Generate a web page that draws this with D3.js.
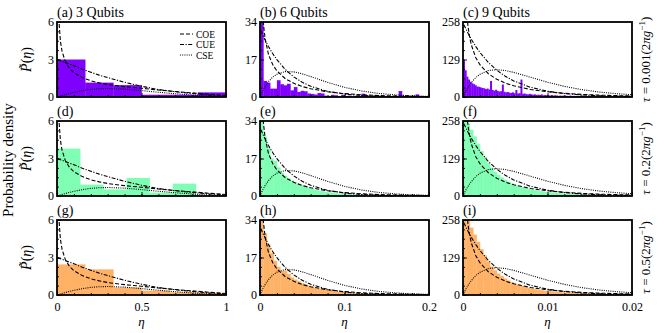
<!DOCTYPE html>
<html>
<head>
<meta charset="utf-8">
<script src="https://cdn.jsdelivr.net/npm/d3@7/dist/d3.min.js"></script>
<style>
  body { margin: 0; background: #fff; }
  svg text { fill: #000; }
</style>
</head>
<body>
<div id="chart"></div>
<script>
// --- data ---
const panelLabels = ['(a) 3 Qubits', '(b) 6 Qubits', '(c) 9 Qubits', '(d)', '(e)', '(f)', '(g)', '(h)', '(i)'];
const tauValues = ['0.001', '0.2', '0.5'];
const xMax = [1, 0.2, 0.02];
const yMax = [6, 34, 258];
const xTicks = [[0, 0.5, 1], [0, 0.1, 0.2], [0, 0.01, 0.02]];
const legendNames = ['COE', 'CUE', 'CSE'];

// theory curves, column 1 (3 qubits)
const eta1 = [0.003, 0.006, 0.01, 0.02, 0.03, 0.05, 0.075, 0.1, 0.15, 0.2, 0.25, 0.3, 0.4, 0.5, 0.6, 0.7, 0.8, 0.9, 1.0];
const coe1 = [11.6, 8.2, 6.35, 4.48, 3.65, 2.8, 2.27, 1.95, 1.55, 1.3, 1.13, 1.0, 0.83, 0.7, 0.56, 0.44, 0.33, 0.22, 0.12];
const cue1 = [2.99, 2.97, 2.95, 2.9, 2.85, 2.75, 2.62, 2.5, 2.22, 1.98, 1.75, 1.55, 1.18, 0.86, 0.6, 0.42, 0.28, 0.17, 0.1];
const cse1 = [0.012, 0.025, 0.04, 0.08, 0.12, 0.2, 0.29, 0.37, 0.51, 0.61, 0.66, 0.68, 0.63, 0.51, 0.38, 0.26, 0.16, 0.08, 0.03];

// column 2 (6 qubits)
const eta2 = [0.001, 0.002, 0.004, 0.006, 0.01, 0.015, 0.02, 0.03, 0.04, 0.05, 0.06, 0.08, 0.1, 0.12, 0.14, 0.16, 0.18, 0.2];
const coe2 = [69.8, 48.6, 33.4, 26.5, 19.35, 14.7, 11.8, 8.3, 6.2, 4.76, 3.73, 2.36, 1.54, 1.01, 0.67, 0.45, 0.3, 0.2];
const cue2 = [30.1, 29.2, 27.5, 25.9, 22.9, 19.7, 16.9, 12.43, 9.11, 6.65, 4.84, 2.54, 1.31, 0.67, 0.34, 0.17, 0.08, 0.04];
const cse2 = [0.9, 1.76, 3.31, 4.69, 6.95, 9.0, 10.35, 11.53, 11.39, 10.5, 9.27, 6.63, 4.38, 2.74, 1.64, 0.95, 0.53, 0.29];

// column 3 (9 qubits)
const eta3 = [0.0001, 0.0002, 0.0004, 0.0006, 0.0008, 0.001, 0.0015, 0.002, 0.003, 0.004, 0.005, 0.006, 0.008, 0.01, 0.012, 0.014, 0.016, 0.018, 0.02];
const coe3 = [629.7, 439, 303, 241, 204, 178, 136, 111, 80, 61, 48, 38.5, 25.8, 17.9, 12.6, 9.1, 6.6, 4.8, 3.5];
const cue3 = [248.6, 242.4, 230.4, 219, 208.1, 197.8, 174.2, 153.4, 118.9, 92.1, 71.4, 55.3, 33.2, 19.9, 11.9, 7.1, 4.2, 2.5, 1.5];
const cse3 = [6.3, 12.6, 23.4, 33.4, 42.3, 50.3, 66.5, 78.1, 90.9, 94.0, 91.1, 84.8, 67.9, 50.9, 36.6, 25.6, 17.5, 11.8, 7.8];

// histograms, coarse bins (first column)
const edgesA = [0, 1 / 6, 2 / 6, 3 / 6, 4 / 6, 5 / 6, 1];
const countsA = [3.0, 1.15, 0.95, 0.18, 0.18, 0.37];
const edgesD = [0, 0.137, 0.274, 0.411, 0.548, 0.685, 0.822, 0.959];
const countsD = [3.79, 0.91, 0.53, 1.44, 0.27, 0.99, 0.08];
const edgesG = [0, 1 / 6, 2 / 6, 3 / 6, 4 / 6, 5 / 6, 1];
const countsG = [2.45, 2.05, 0.6, 0.35, 0.22, 0.15];

// histograms, 6 qubits (bin width 0.004)
const binW6 = 0.004;
const countsB = [34, 7.3, 6.5, 3.8, 3.8, 7.6, 5.8, 5.3, 6.0, 3.0, 4.5, 2.3, 2.8, 2.6, 1.6, 1.4, 1.1, 1.8, 1.6, 0.6,
  0.5, 1.0, 0.8, 0.3, 0.9, 0.4, 0.6, 0.2, 0.5, 0.3, 1.5, 0.8, 0.3, 0.4, 0.2, 0.5, 0.2, 0.3, 0.1, 0.2,
  0.3, 2.7, 0.3, 0.9, 0.2, 0.1, 1.2, 0.3, 0.2, 0.1];
const countsE = [34, 27, 22, 17, 16, 13, 10.5, 9.2, 8.0, 7.0, 6.2, 5.4, 4.8, 4.2, 3.8, 3.3, 2.9, 2.5, 2.2, 1.9,
  1.7, 1.5, 1.3, 1.15, 1.0, 0.9, 0.78, 0.68, 0.6, 0.52, 0.46, 0.4, 0.35, 0.3, 0.27, 0.24, 0.21, 0.18, 0.16, 0.14,
  0.12, 0.11, 0.1, 0.09, 0.08, 0.07, 0.06, 0.05, 0.05, 0.04];
const countsH = [34, 28, 23, 19, 15.5, 12.8, 11, 11, 9.6, 8.0, 7.0, 6.2, 5.4, 4.8, 4.2, 3.8, 3.3, 2.9, 2.6, 2.3,
  2.0, 1.8, 1.6, 1.4, 1.2, 1.1, 0.95, 0.85, 0.75, 0.65, 0.58, 0.5, 0.44, 0.38, 0.33, 0.3, 0.26, 0.23, 0.2, 0.18,
  0.16, 0.14, 0.12, 0.11, 0.1, 0.09, 0.08, 0.07, 0.06, 0.05];

// histograms, 9 qubits
const binWC = 0.0002;
const countsC = [125, 92, 70, 60, 52, 47, 44, 40, 36, 35, 33, 31, 30, 27, 29, 26, 55, 24, 22, 25,
  21, 19, 20, 43, 18, 16, 17, 15, 14, 16, 13, 24, 12, 13, 60, 11, 12, 10, 9, 11,
  9, 8, 9, 7, 8, 7, 9, 6, 7, 6, 6, 5, 7, 5, 6, 5, 4, 5, 4, 5,
  4, 4, 3, 5, 3, 4, 3, 3, 4, 3, 3, 2.5, 3, 2, 3, 2.5, 2, 3, 2, 2.5,
  2, 2, 3, 2, 1.5, 2, 2, 1.5, 2, 1.5, 2, 1.5, 1, 2, 1.5, 1, 1.5, 1, 1.5, 1];
const binW9 = 0.0004;
const countsF = [258, 250, 228, 205, 180, 155, 134, 114, 97, 84, 73, 64, 56, 49, 43, 38, 34, 30.5, 27.5, 24.5,
  22, 19.8, 17.8, 16.2, 14.8, 13.4, 12.2, 11, 10, 9.2, 8.4, 7.7, 7.0, 6.4, 5.9, 5.4, 4.9, 4.5, 4.1, 3.8,
  3.5, 3.2, 3.0, 2.8, 2.6, 2.4, 2.2, 2.1, 2.0, 1.8];
const countsI = [258, 255, 232, 208, 183, 158, 136, 115, 98, 85, 74, 65, 57, 50, 44, 39, 35, 31, 28, 25,
  22.5, 20, 18, 16.5, 15, 13.5, 12.3, 11.2, 10.2, 9.3, 8.5, 7.8, 7.1, 6.5, 6.0, 5.5, 5.0, 4.6, 4.2, 3.9,
  3.6, 3.3, 3.1, 2.9, 2.7, 2.5, 2.3, 2.1, 2.0, 1.9];

document.addEventListener('DOMContentLoaded', function() {
    const config = {
        width: 666,
        height: 333,
        colLeft: [57, 260, 463],
        rowTop: [22, 121, 220],
        panelW: 169,
        panelH: 75,
        font: '"Liberation Serif", "DejaVu Serif", serif',
        rowColors: ['#8000ff', '#80ffb4', '#ffb266'],
        dash: { COE: '4,2', CUE: '4,1.5,1.2,1.5', CSE: '1,1.2' }
    };

    const uniform = (w, n) => d3.range(n + 1).map(i => i * w);
    const hists = [
        [[edgesA, countsA], [uniform(binW6, countsB.length), countsB], [uniform(binWC, countsC.length), countsC]],
        [[edgesD, countsD], [uniform(binW6, countsE.length), countsE], [uniform(binW9, countsF.length), countsF]],
        [[edgesG, countsG], [uniform(binW6, countsH.length), countsH], [uniform(binW9, countsI.length), countsI]]
    ];
    const curves = [
        { eta: eta1, COE: coe1, CUE: cue1, CSE: cse1 },
        { eta: eta2, COE: coe2, CUE: cue2, CSE: cse2 },
        { eta: eta3, COE: coe3, CUE: cue3, CSE: cse3 }
    ];

    const svg = d3.select('#chart').append('svg')
        .attr('width', config.width)
        .attr('height', config.height);

    for (let r = 0; r < 3; r++) {
        for (let c = 0; c < 3; c++) {
            drawPanel(r, c);
        }
    }

    function drawPanel(r, c) {
        const w = config.panelW, h = config.panelH;
        const g = svg.append('g')
            .attr('transform', `translate(${config.colLeft[c]},${config.rowTop[r]})`);
        const x = d3.scaleLinear().domain([0, xMax[c]]).range([0, w]);
        const y = d3.scaleLinear().domain([0, yMax[c]]).range([h, 0]);

        const clipId = `clip-${r}-${c}`;
        g.append('clipPath').attr('id', clipId)
            .append('rect').attr('width', w).attr('height', h);
        const body = g.append('g').attr('clip-path', `url(#${clipId})`);

        // histogram bars
        const [edges, counts] = hists[r][c];
        body.append('g').selectAll('rect')
            .data(counts)
            .join('rect')
            .attr('x', (d, i) => x(edges[i]))
            .attr('width', (d, i) => x(edges[i + 1]) - x(edges[i]) + 0.3)
            .attr('y', d => y(d))
            .attr('height', d => Math.max(0, y(0) - y(d)))
            .attr('fill', config.rowColors[r]);

        // theory curves
        const cv = curves[c];
        const line = d3.line().x(d => x(d[0])).y(d => y(d[1]));
        legendNames.forEach(name => {
            body.append('path')
                .datum(cv.eta.map((e, i) => [e, cv[name][i]]))
                .attr('d', line)
                .attr('fill', 'none')
                .attr('stroke', '#000')
                .attr('stroke-width', 1.1)
                .attr('stroke-dasharray', config.dash[name]);
        });

        // minor and major ticks (inward)
        const minorX = d3.range(0, 11).map(i => i * xMax[c] / 10);
        const minorY = d3.range(0, 9).map(i => i * yMax[c] / 8);
        g.append('g').attr('transform', `translate(0,${h})`)
            .call(d3.axisBottom(x).tickValues(minorX).tickSize(-2).tickFormat(''))
            .call(a => a.select('.domain').remove());
        g.append('g').call(d3.axisLeft(y).tickValues(minorY).tickSize(-2).tickFormat(''))
            .call(a => a.select('.domain').remove());

        const xa = g.append('g').attr('transform', `translate(0,${h})`)
            .call(d3.axisBottom(x).tickValues(xTicks[c]).tickSize(-4).tickPadding(7)
                .tickFormat(r === 2 ? d3.format('~g') : ''))
            .call(a => a.select('.domain').remove());
        xa.selectAll('text').attr('font-size', 12).style('font-family', config.font);

        const ya = g.append('g')
            .call(d3.axisLeft(y).tickValues([0, yMax[c] / 2, yMax[c]]).tickSize(-4).tickPadding(3)
                .tickFormat(d3.format('d')))
            .call(a => a.select('.domain').remove());
        ya.selectAll('text').attr('font-size', 12).style('font-family', config.font);
        g.selectAll('.tick line').attr('stroke', '#000').attr('stroke-width', 0.9);

        // frame
        g.append('rect')
            .attr('width', w).attr('height', h)
            .attr('fill', 'none')
            .attr('stroke', '#000')
            .attr('stroke-width', 1.8);

        // panel label
        g.append('text')
            .attr('x', 0).attr('y', -5)
            .attr('font-size', 14)
            .style('font-family', config.font)
            .text(panelLabels[r * 3 + c]);

        if (r === 0 && c === 0) drawLegend(g);

        // y label on first column
        if (c === 0) {
            const t = g.append('text')
                .attr('transform', `translate(-26,${h / 2}) rotate(-90)`)
                .attr('text-anchor', 'middle')
                .attr('font-size', 14)
                .style('font-family', config.font);
            t.append('tspan').attr('font-style', 'italic').text('P\u0303');
            t.append('tspan').text('(');
            t.append('tspan').attr('font-style', 'italic').text('η');
            t.append('tspan').text(')');
        }

        // x label on bottom row
        if (r === 2) {
            g.append('text')
                .attr('x', w / 2).attr('y', h + 31)
                .attr('text-anchor', 'middle')
                .attr('font-size', 13)
                .attr('font-style', 'italic')
                .style('font-family', config.font)
                .text('η');
        }

        // tau label on right column
        if (c === 2) {
            const t = g.append('text')
                .attr('transform', `translate(${w + 18},${h / 2}) rotate(-90)`)
                .attr('text-anchor', 'middle')
                .attr('font-size', 13)
                .style('font-family', config.font);
            t.append('tspan').attr('font-style', 'italic').text('τ');
            t.append('tspan').text(` = ${tauValues[r]}(2`);
            t.append('tspan').attr('font-style', 'italic').text('πg');
            t.append('tspan').attr('dy', -5).attr('font-size', 9).text('−1');
            t.append('tspan').attr('dy', 5).text(')');
        }
    }

    function drawLegend(g) {
        const lg = g.append('g').attr('transform', 'translate(123,12)');
        legendNames.forEach((name, i) => {
            const row = lg.append('g').attr('transform', `translate(0,${i * 10.5})`);
            row.append('line')
                .attr('x1', 0).attr('x2', 13)
                .attr('stroke', '#000')
                .attr('stroke-width', 1.1)
                .attr('stroke-dasharray', config.dash[name]);
            row.append('text')
                .attr('x', 16).attr('y', 3.5)
                .attr('font-size', 9.5)
                .style('font-family', config.font)
                .text(name);
        });
    }

    // global y label
    svg.append('text')
        .attr('transform', 'translate(13,160) rotate(-90)')
        .attr('text-anchor', 'middle')
        .attr('font-size', 15)
        .style('font-family', config.font)
        .text('Probability density');
});
</script>
</body>
</html>
